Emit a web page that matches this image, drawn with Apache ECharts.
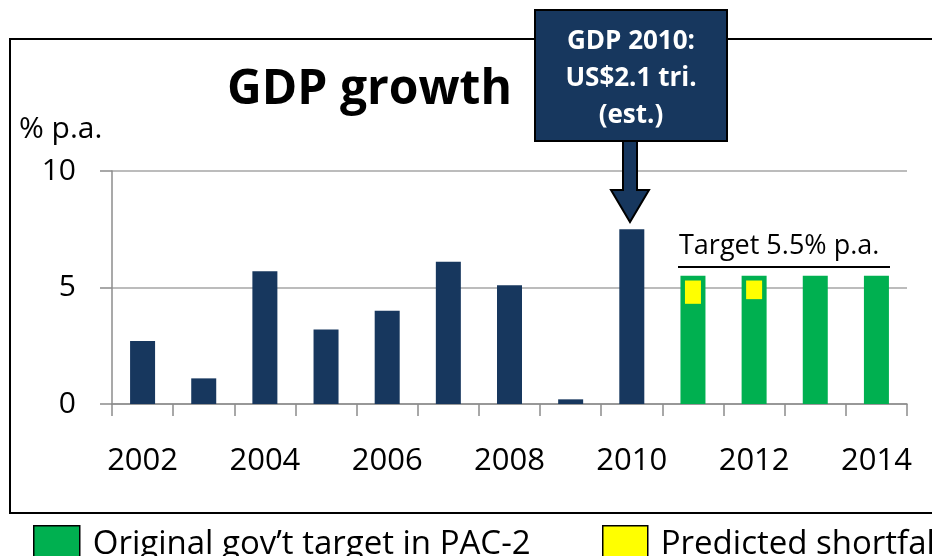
<!DOCTYPE html>
<html>
<head>
<meta charset="utf-8">
<script src="https://cdn.jsdelivr.net/npm/echarts@6/dist/echarts.min.js"></script>
<style>
  html, body { margin: 0; padding: 0; background: #fff; }
  #main { width: 932px; height: 556px; }
</style>
</head>
<body>
<div id="main"></div>
<script>
// years on the x axis
var years = ['2002','2003','2004','2005','2006','2007','2008','2009','2010','2011','2012','2013','2014'];
// actual growth, % p.a.
var actual = [2.7, 1.1, 5.7, 3.2, 4.0, 6.1, 5.1, 0.2, 7.5, null, null, null, null];
// original government target (PAC-2)
var target = [null, null, null, null, null, null, null, null, null, 5.5, 5.5, 5.5, 5.5];
// predicted shortfall: bottom of the yellow block and its height
var shortBase = [null, null, null, null, null, null, null, null, null, 4.3, 4.5, null, null];
var shortfall = [null, null, null, null, null, null, null, null, null, 1.0, 0.8, null, null];
var yTicks = [0, 5, 10];

var navy = '#17375E';
var green = '#00B050';
var yellow = '#FFFF00';
var axisGray = '#8C8C8C';
var font = '"Open Sans", Lato, sans-serif';

var chartDom = document.getElementById('main');
var myChart = echarts.init(chartDom);
var option;

var legendText = { fontFamily: font, fontSize: 33, color: '#000', padding: [0, 0, 0, 8] };

option = {
	animation: false,
	textStyle: { fontFamily: font },
	grid: { left: 112, right: 25, top: 171, bottom: 152 },
	title: {
		text: 'GDP growth',
		left: 222,
		top: 61,
		textStyle: { fontFamily: font, fontSize: 48, fontWeight: 'bold', color: '#000' }
	},
	legend: [{
		data: ["Original gov\u2019t target in PAC-2"],
		left: 33, top: 525, padding: 0,
		itemWidth: 46, itemHeight: 38,
		icon: 'rect',
		itemStyle: { borderColor: '#000', borderWidth: 1.5 },
		textStyle: legendText
	}, {
		data: ['Predicted shortfall'],
		left: 602, top: 525, padding: 0,
		itemWidth: 45, itemHeight: 38,
		icon: 'rect',
		itemStyle: { borderColor: '#000', borderWidth: 1.5 },
		textStyle: legendText
	}],
	xAxis: [{
		type: 'category',
		data: years,
		axisLine: { lineStyle: { color: axisGray, width: 1.5 } },
		axisTick: { show: true, interval: 0, length: 12, lineStyle: { color: axisGray, width: 1.5 } },
		axisLabel: { interval: 1, margin: 42, fontSize: 31, color: '#000', fontFamily: font }
	}, {
		type: 'category',
		data: years,
		show: false
	}],
	yAxis: {
		type: 'value',
		min: 0, max: 10, interval: 5,
		axisLine: { show: true, lineStyle: { color: axisGray, width: 1.5 } },
		axisTick: { show: true, length: 12, lineStyle: { color: axisGray, width: 1.5 } },
		axisLabel: {
			margin: 36, fontSize: 30, color: '#000', fontFamily: font,
			formatter: function (v) { return yTicks.indexOf(v) >= 0 ? String(v) : ''; }
		},
		splitLine: { lineStyle: { color: '#A6A6A6', width: 1.5 } }
	},
	series: [{
		name: 'GDP growth',
		type: 'bar',
		xAxisIndex: 0,
		barWidth: 25,
		barGap: '-100%',
		itemStyle: { color: navy },
		data: actual
	}, {
		name: "Original gov\u2019t target in PAC-2",
		type: 'bar',
		xAxisIndex: 0,
		barWidth: 25,
		barGap: '-100%',
		itemStyle: { color: green },
		data: target
	}, {
		name: 'base',
		type: 'bar',
		xAxisIndex: 1,
		stack: 'sf',
		barWidth: 16,
		itemStyle: { color: 'transparent' },
		data: shortBase
	}, {
		name: 'Predicted shortfall',
		type: 'bar',
		xAxisIndex: 1,
		stack: 'sf',
		barWidth: 16,
		itemStyle: { color: yellow },
		data: shortfall
	}],
	graphic: [
		// outer frame
		{ type: 'rect', z: 0, shape: { x: 10, y: 39, width: 940, height: 474 },
		  style: { fill: 'none', stroke: '#000', lineWidth: 2 } },
		// y axis unit
		{ type: 'text', left: 19, top: 114, z: 10,
		  style: { text: '% p.a.', fontFamily: font, fontSize: 30, fill: '#000' } },
		// target label and line
		{ type: 'text', x: 679, y: 246, z: 10,
		  style: { text: 'Target 5.5% p.a.', fontFamily: font, fontSize: 27, fill: '#000', verticalAlign: 'middle' } },
		{ type: 'line', z: 10, shape: { x1: 678, y1: 267, x2: 890, y2: 267 },
		  style: { stroke: '#000', lineWidth: 2 } },
		// callout box
		{ type: 'rect', z: 20, shape: { x: 535, y: 10, width: 192, height: 131 },
		  style: { fill: navy, stroke: '#000', lineWidth: 2 } },
		{ type: 'text', x: 631, y: 42, z: 21,
		  style: { text: 'GDP 2010:', fontFamily: font, fontSize: 26, fontWeight: 'bold', fill: '#fff', align: 'center', verticalAlign: 'middle' } },
		{ type: 'text', x: 631, y: 79, z: 21,
		  style: { text: 'US$2.1 tri.', fontFamily: font, fontSize: 26, fontWeight: 'bold', fill: '#fff', align: 'center', verticalAlign: 'middle' } },
		{ type: 'text', x: 631, y: 116, z: 21,
		  style: { text: '(est.)', fontFamily: font, fontSize: 26, fontWeight: 'bold', fill: '#fff', align: 'center', verticalAlign: 'middle' } },
		// arrow down to the 2010 bar
		{ type: 'polygon', z: 20,
		  shape: { points: [[623, 141], [637, 141], [637, 190], [649, 190], [630, 222], [611, 190], [623, 190]] },
		  style: { fill: navy, stroke: '#000', lineWidth: 2 } }
	]
};

option && myChart.setOption(option);
</script>
</body>
</html>
